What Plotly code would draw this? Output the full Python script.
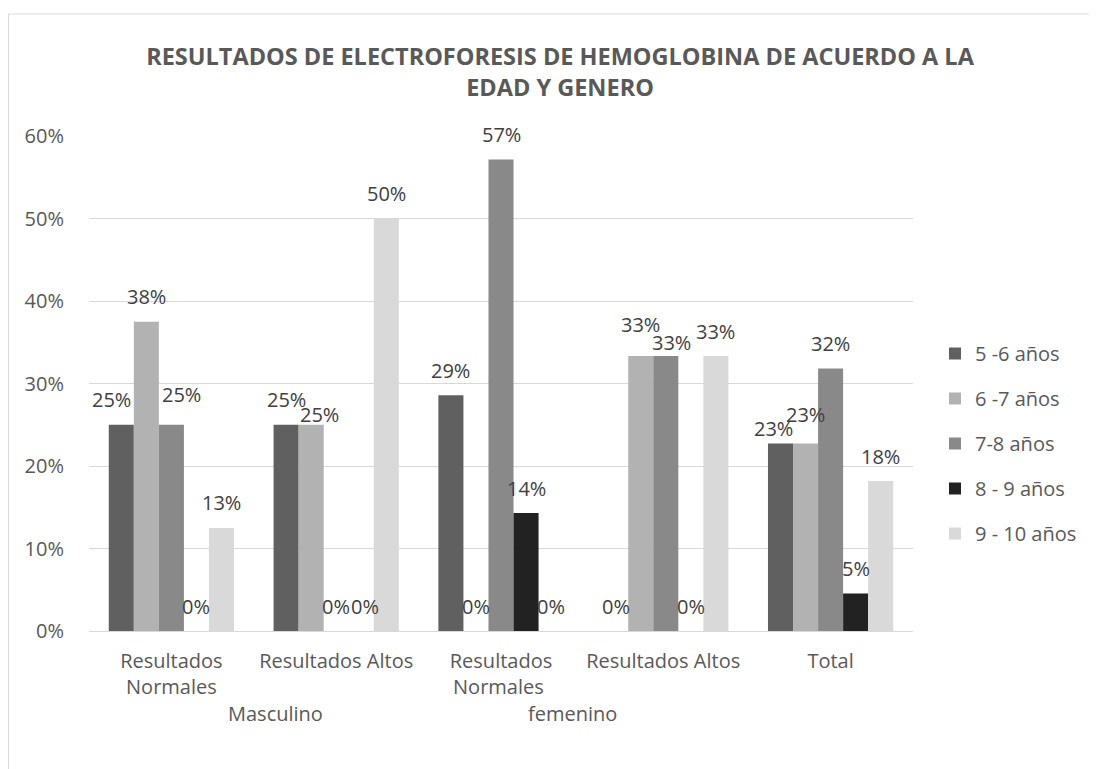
import math
import plotly.graph_objects as go

categories = ["Resultados<br>Normales", "Resultados Altos", "Resultados<br>Normales ", "Resultados Altos ", "Total"]
series_names = ["5 -6 años", "6 -7 años", "7-8 años", "8 - 9 años", "9 - 10 años"]
s_5_6 = [0.25, 0.25, 0.2857, 0.0, 0.2273]
s_6_7 = [0.375, 0.25, 0.0, 0.3333, 0.2273]
s_7_8 = [0.25, 0.0, 0.5714, 0.3333, 0.3182]
s_8_9 = [0.0, 0.0, 0.1429, 0.0, 0.0455]
s_9_10 = [0.125, 0.5, 0.0, 0.3333, 0.1818]
group_labels = ["Masculino", "femenino"]
y_ticks = [0, 0.1, 0.2, 0.3, 0.4, 0.5, 0.6]

series_values = [s_5_6, s_6_7, s_7_8, s_8_9, s_9_10]
colors = ["#606060", "#b2b2b2", "#898989", "#222222", "#d9d9d9"]

FONT = "Open Sans"
TXT = "#595959"
LBL = "#404040"

# page offset of the plot div (body margin)
OFF = 8
W, H = 1097 - OFF, 769 - OFF
L, R, T, B = 89 - OFF, 184, 136 - OFF, 138
pw, ph = W - L - R, H - T - B
BARGAP = 0.24
bw = pw / len(categories) * (1 - BARGAP) / len(series_names)

def px_x(p):
    return (p - OFF - L) / pw

def px_y(p):
    return (H - B - (p - OFF)) / ph

fig = go.Figure()
for i, (name, vals) in enumerate(zip(series_names, series_values)):
    fig.add_trace(go.Bar(
        x=categories, y=vals, name=name, marker=dict(color=colors[i], line=dict(width=0)),
        legendgroup=f"g{i}",
    ))

# label nudges (px) that mimic the reference's collision handling: (cat, series) -> (dx, dy down)
nudges = {(0, 0): (-10, 0), (0, 2): (10, -5), (1, 1): (8, 15), (1, 3): (4, 0), (3, 1): (0, -7),
          (3, 2): (6, 11), (4, 0): (-7, 10), (4, 1): (0, -4)}

for i, vals in enumerate(series_values):
    for c, v in enumerate(vals):
        dx, dy = nudges.get((c, i), (0, 0))
        fig.add_annotation(
            x=categories[c], y=v, xref="x", yref="y",
            text=f"{math.floor(v * 100 + 0.5)}%", showarrow=False,
            xshift=(i - 2) * bw + dx, yshift=25 - dy, yanchor="middle", xanchor="center",
            font=dict(family=FONT, size=20, color=LBL),
        )

fig.update_layout(
    width=W, height=H,
    margin=dict(l=L, r=R, t=T, b=B, autoexpand=False),
    paper_bgcolor="white", plot_bgcolor="white",
    font=dict(family=FONT, color=TXT, size=20),
    barmode="group", bargap=BARGAP, bargroupgap=0,
    title=dict(
        text="<b>RESULTADOS DE ELECTROFORESIS DE HEMOGLOBINA DE ACUERDO A LA<br>EDAD Y GENERO</b>",
        x=(560 - OFF) / W, xanchor="center", y=1 - (65 - OFF) / H, yanchor="middle",
        xref="container", yref="container",
        font=dict(family=FONT, size=23.5, color=TXT),
    ),
    xaxis=dict(showgrid=False, showline=True, linecolor="#d9d9d9", linewidth=1, ticks="",
               ticklabelstandoff=12, tickfont=dict(size=20, color=TXT), tickangle=0),
    yaxis=dict(range=[0, 0.6], tickvals=y_ticks, tickformat=".0%", showgrid=True, gridcolor="#d9d9d9",
               gridwidth=1, zeroline=False, showline=False, ticks="", ticklabelstandoff=24,
               tickfont=dict(size=20, color=TXT)),
    legend=dict(x=px_x(935), y=px_y(334), xanchor="left", yanchor="top", traceorder="grouped",
                tracegroupgap=16, font=dict(size=20, color=TXT), itemwidth=30),
    showlegend=True,
)

fig.add_annotation(x=px_x(275), y=px_y(713), xref="paper", yref="paper", text=group_labels[0], showarrow=False,
                   font=dict(size=20, color=TXT), xanchor="center", yanchor="middle")
fig.add_annotation(x=px_x(572), y=px_y(713), xref="paper", yref="paper", text=group_labels[1], showarrow=False,
                   font=dict(size=20, color=TXT), xanchor="center", yanchor="middle")

fig.add_shape(type="rect", xref="paper", yref="paper", x0=px_x(8.5), x1=px_x(1130), y0=px_y(800), y1=px_y(14),
              line=dict(color="#d9d9d9", width=1), fillcolor="rgba(0,0,0,0)", layer="below")

fig.write_html("out.html")
